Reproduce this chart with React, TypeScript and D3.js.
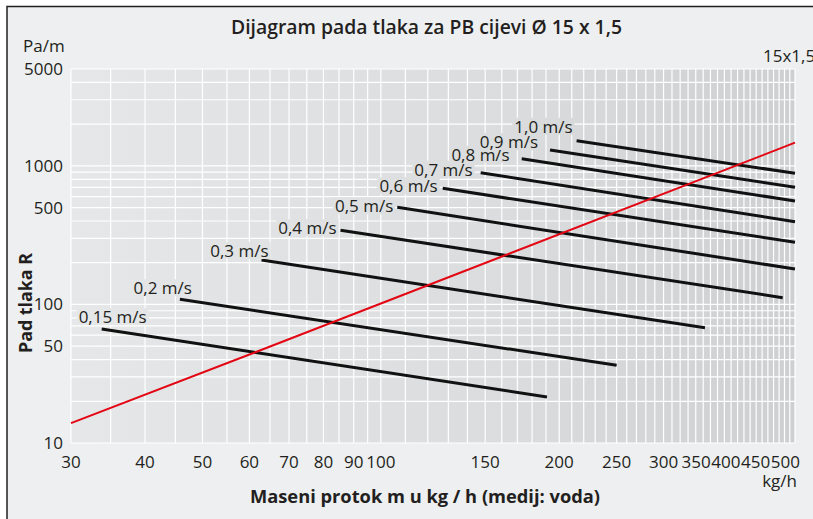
import React, { useEffect, useRef } from 'react'
import * as d3 from 'd3'

// axis ticks
const flowTicks = [30, 40, 50, 60, 70, 80, 90, 100, 150, 200, 250, 300, 350, 400, 450, 500]
const dropTicks = [10, 50, 100, 500, 1000, 5000]

// velocity lines (kg/h -> Pa/m)
const speedLabels = ['0,15 m/s', '0,2 m/s', '0,3 m/s', '0,4 m/s', '0,5 m/s', '0,6 m/s', '0,7 m/s', '0,8 m/s', '0,9 m/s', '1,0 m/s']
const flowStart = [33.8, 45.8, 62.9, 85.5, 106.6, 127.2, 147.4, 172.9, 193, 214]
const dropStart = [66.5, 108.9, 209.2, 342.7, 502, 688.7, 892.6, 1126.5, 1301, 1519]
const flowEnd = [190.7, 250, 352.4, 476.7, 500, 500, 500, 500, 500, 500]
const dropEnd = [21.5, 36.4, 67.9, 111.9, 180.2, 280.8, 395.5, 557.7, 700, 883.6]

// pipe 15x1,5 curve
const pipeFlow = [30, 61.4, 500]
const pipeDrop = [13.9, 45.2, 1470]

const W = 813
const H = 519
const FONT = "'Open Sans', 'Noto Sans', sans-serif"
const INK = '#231f20'

// label offset from the start of each velocity line: [dx of text end, dy of text middle]
const labelShift = [[45, -12], [12, -11], [7, -9], [-4, -2], [-4, -1], [-5, -2], [-8, -3], [-12, -4], [-12, -8], [-4, -14]]

const App = () => {
  const svgRef = useRef<SVGSVGElement>(null)

  useEffect(() => {
    const svg = d3.select(svgRef.current)
    svg.selectAll('*').remove()

    const x = d3.scaleLog().domain([30, 500]).range([71, 795])
    const y = d3.scaleLog().domain([10, 5000]).range([443, 69])

    const grad = svg.append('defs').append('linearGradient')
      .attr('id', 'plotBg')
      .attr('gradientUnits', 'userSpaceOnUse')
      .attr('x1', x(30)).attr('x2', x(500)).attr('y1', 0).attr('y2', 0)
    grad.append('stop').attr('offset', '0%').attr('stop-color', '#e6e7e8')
    grad.append('stop').attr('offset', '60%').attr('stop-color', '#dadcdd')
    grad.append('stop').attr('offset', '100%').attr('stop-color', '#cdcfd1')

    svg.append('rect').attr('width', W).attr('height', H).attr('fill', '#fff')
    svg.append('rect')
      .attr('x', 7).attr('y', 6.5).attr('width', 900).attr('height', 600)
      .attr('fill', '#eeeff0').attr('stroke', INK).attr('stroke-width', 1.5)

    svg.append('rect')
      .attr('x', x(30)).attr('y', y(5000))
      .attr('width', x(500) - x(30)).attr('height', y(10) - y(5000))
      .attr('fill', 'url(#plotBg)')

    // grid
    const vLines = d3.range(30, 100, 5).concat(d3.range(100, 501, 10))
    const hLines = d3.range(10, 100, 10).concat(d3.range(100, 1000, 100), d3.range(1000, 5001, 1000))
    const grid = svg.append('g').attr('stroke', '#fff').attr('stroke-width', 1.2)
    grid.selectAll('.v').data(vLines).join('line')
      .attr('x1', d => x(d)).attr('x2', d => x(d))
      .attr('y1', y(5000)).attr('y2', y(10))
    grid.selectAll('.h').data(hLines).join('line')
      .attr('y1', d => y(d)).attr('y2', d => y(d))
      .attr('x1', x(30)).attr('x2', x(500))

    // velocity lines
    const line = d3.line<[number, number]>().x(d => x(d[0])).y(d => y(d[1]))
    const rows = speedLabels.map((s, i) => ({
      label: s,
      pts: [[flowStart[i], dropStart[i]], [flowEnd[i], dropEnd[i]]] as [number, number][],
      shift: labelShift[i],
    }))
    svg.append('g').selectAll('path').data(rows).join('path')
      .attr('d', d => line(d.pts))
      .attr('fill', 'none').attr('stroke', '#111').attr('stroke-width', 3)

    // labels with background
    const lab = svg.append('g').attr('font-family', FONT).attr('font-size', 17).attr('fill', INK)
    rows.forEach(d => {
      const g = lab.append('g')
      const t = g.append('text')
        .attr('x', x(d.pts[0][0]) + d.shift[0])
        .attr('y', y(d.pts[0][1]) + d.shift[1] + 6)
        .attr('text-anchor', 'end')
        .text(d.label)
      const b = (t.node() as SVGTextElement).getBBox()
      g.insert('rect', 'text')
        .attr('x', b.x - 2).attr('y', y(d.pts[0][1]) + d.shift[1] - 9)
        .attr('width', b.width + 4).attr('height', 17)
        .attr('fill', 'url(#plotBg)')
    })

    // pipe line
    svg.append('path')
      .datum(pipeFlow.map((f, i) => [f, pipeDrop[i]] as [number, number]))
      .attr('d', line)
      .attr('fill', 'none').attr('stroke', '#e30613').attr('stroke-width', 2)

    // y tick labels
    const txt = svg.append('g').attr('font-family', FONT).attr('font-size', 17).attr('fill', INK)
    txt.selectAll('.yt').data(dropTicks).join('text')
      .attr('x', 63).attr('y', d => y(d) + 6)
      .attr('text-anchor', 'end')
      .text(d => d)

    // x tick labels, packed from the right so they do not overlap
    const xt = txt.selectAll('.xt').data(flowTicks).join('text')
      .attr('y', 468)
      .attr('text-anchor', 'start')
      .text(d => d)
    const nodes = xt.nodes() as SVGTextElement[]
    const widths = nodes.map(n => n.getComputedTextLength())
    const lefts = flowTicks.map((v, i) => x(v) - widths[i] / 2)
    const last = flowTicks.length - 1
    lefts[last] = Math.min(lefts[last], x(500) + 5 - widths[last])
    for (let i = last - 1; i >= 0; i--) {
      if (lefts[i] + widths[i] + 0.6 > lefts[i + 1]) lefts[i] = lefts[i + 1] - widths[i] - 0.6
    }
    nodes.forEach((n, i) => d3.select(n).attr('x', lefts[i]))

    txt.append('text').attr('x', 797).attr('y', 487).attr('text-anchor', 'end').text('kg/h')
    txt.append('text').attr('x', 23).attr('y', 52).text('Pa/m')
    txt.append('text').attr('x', 763).attr('y', 62).text('15x1,5')

    // titles
    svg.append('text')
      .attr('x', 426.5).attr('y', 34)
      .attr('text-anchor', 'middle')
      .attr('font-family', FONT).attr('font-weight', 600).attr('font-size', 19)
      .attr('textLength', 391).attr('lengthAdjust', 'spacingAndGlyphs')
      .attr('fill', INK)
      .text('Dijagram pada tlaka za PB cijevi Ø 15 x 1,5')
    svg.append('text')
      .attr('x', 425).attr('y', 503)
      .attr('text-anchor', 'middle')
      .attr('font-family', FONT).attr('font-weight', 700).attr('font-size', 18)
      .attr('textLength', 350).attr('lengthAdjust', 'spacingAndGlyphs')
      .attr('fill', INK)
      .text('Maseni protok m u kg / h (medij: voda)')
    svg.append('text')
      .attr('transform', 'translate(32,303) rotate(-90)')
      .attr('text-anchor', 'middle')
      .attr('font-family', FONT).attr('font-weight', 700).attr('font-size', 18)
      .attr('textLength', 100).attr('lengthAdjust', 'spacingAndGlyphs')
      .attr('fill', INK)
      .text('Pad tlaka R')
  }, [])

  return (
    <svg
      ref={svgRef}
      width={W}
      height={H}
      style={{ position: 'absolute', left: 0, top: 0, display: 'block' }}
    />
  )
}

export default App
